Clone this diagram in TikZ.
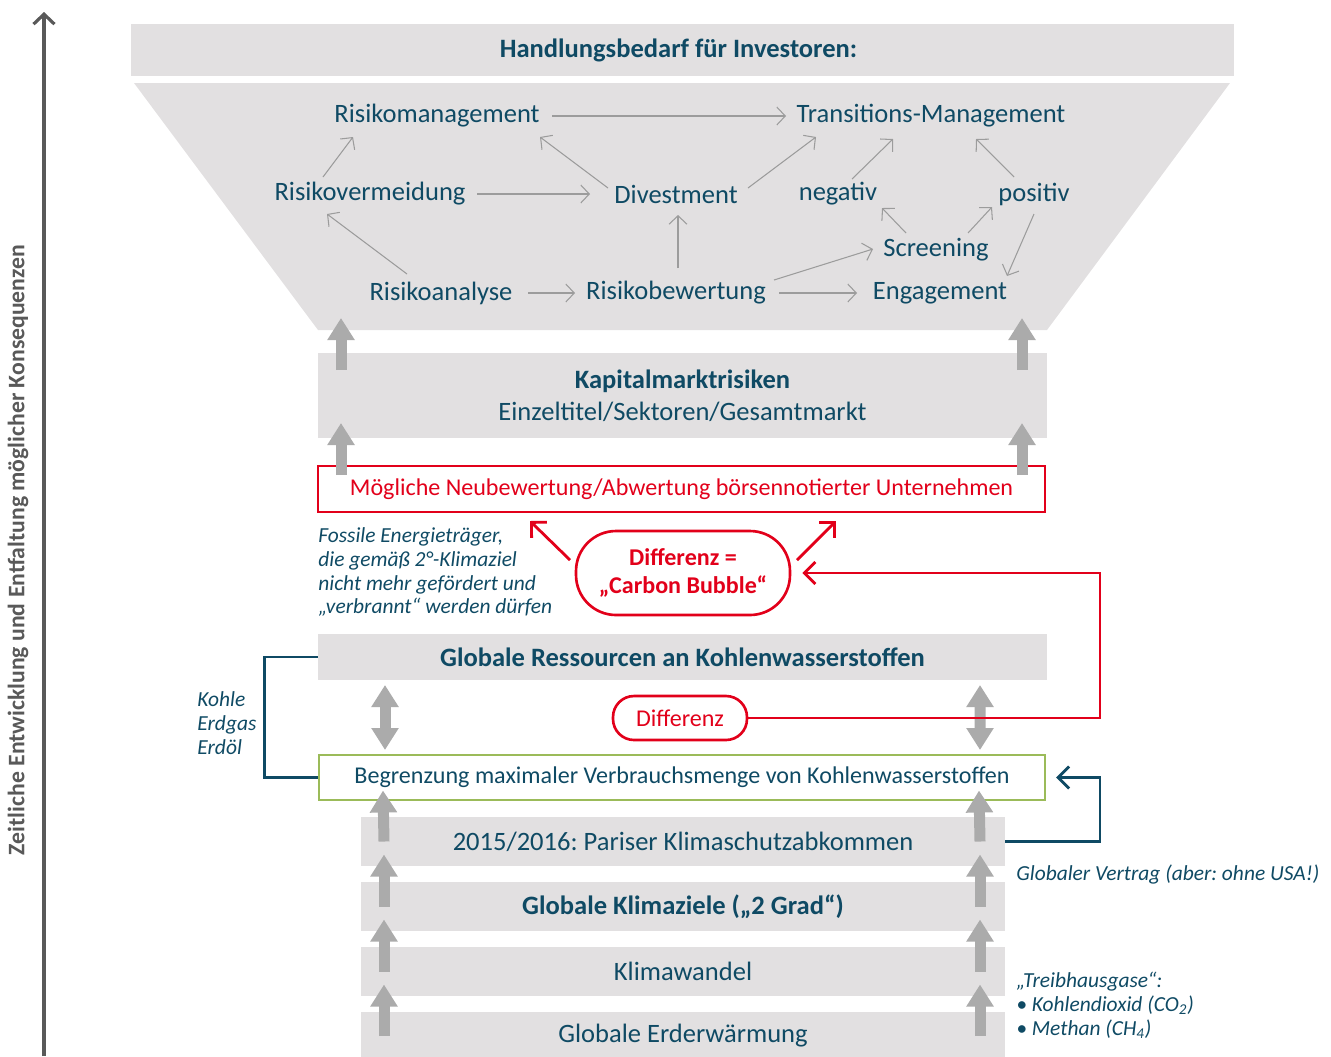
\documentclass[tikz,border=0pt]{standalone}
\usepackage{fontspec}
\setmainfont{Carlito}
\usepackage{xcolor}
\usetikzlibrary{arrows.meta}
\frenchspacing
\definecolor{boxgray}{HTML}{E2E0E1}
\definecolor{arrowgray}{HTML}{ABABAB}
\definecolor{linegray}{HTML}{9C9C9C}
\definecolor{petrol}{HTML}{0F4A64}
\definecolor{alarmred}{HTML}{E2001A}
\definecolor{limegreen}{HTML}{9BBB59}
\definecolor{axisgray}{HTML}{595959}
\newcommand{\fsmain}{\fontsize{15.1}{18}\selectfont}
\newcommand{\fsbox}{\fontsize{13.7}{16}\selectfont}
\newcommand{\fsnote}{\fontsize{12.2}{13.6}\selectfont}
\tikzset{
  term/.style={
    inner sep=0pt,
    text=petrol,
    font=\fsmain
  },
  bar/.style={
    rectangle,
    fill=boxgray,
    inner sep=0pt,
    text=petrol,
    align=center,
    font=\fsmain
  },
  framebox/.style={
    rectangle,
    draw=#1,
    line width=1.4pt,
    inner sep=0pt,
    minimum width=14.52cm,
    minimum height=0.9cm,
    font=\fsbox
  },
  bubble/.style={
    rectangle,
    rounded corners=#1,
    draw=alarmred,
    line width=1.5pt,
    fill=white,
    text=alarmred,
    align=center,
    inner sep=0pt
  },
  note/.style={
    inner sep=0pt,
    text=petrol,
    align=left,
    font=\fsnote\itshape
  },
  flow/.style={
    linegray,
    line width=0.6pt,
    -{Straight Barb[length=0.17cm, width=0.36cm]}
  },
  blockarrow/.style={
    arrowgray,
    line width=0.22cm,
    -{Triangle[length=0.44cm, width=0.52cm]}
  },
  blockboth/.style={
    arrowgray,
    line width=0.22cm,
    {Triangle[length=0.44cm, width=0.52cm]}-{Triangle[length=0.44cm, width=0.52cm]}
  },
  redarrow/.style={
    alarmred,
    line width=1.6pt,
    -{Straight Barb[length=0.22cm, width=0.44cm]}
  },
  bluearrow/.style={
    petrol,
    line width=1.6pt,
    -{Straight Barb[length=0.22cm, width=0.44cm]}
  }
}

\begin{document}
\begin{tikzpicture}[x=0.02cm, y=-0.02cm]
  \useasboundingbox (0,0) rectangle (1331,1056);

  % --- FUNNEL: HANDLUNGSBEDARF ---
  \node (title) [bar, minimum width=22.06cm, minimum height=1.04cm, font=\fsmain\bfseries] at (682.5,50) {Handlungsbedarf für Investoren:\hspace*{0.16cm}};
  \fill[boxgray] (134,83) -- (1230,83) -- (1047,330) -- (318,330) -- cycle;

  \node (rm) [term] at (437,116) {Risikomanagement};
  \node (tm) [term] at (931,116) {Transitions-Management};
  \node (rv) [term] at (370,194) {Risikovermeidung};
  \node (dv) [term] at (676,194) {Divestment};
  \node (ng) [term] at (838,194) {negativ};
  \node (ps) [term] at (1034,194) {positiv};
  \node (sc) [term] at (936,250) {Screening};
  \node (ra) [term] at (441,293) {Risikoanalyse};
  \node (rb) [term] at (676,293) {Risikobewertung};
  \node (en) [term] at (940,293) {Engagement};

  \draw[flow] ([shift={(115,0)}]rm.center) -- ([shift={(-145,0)}]tm.center);
  \draw[flow] ([shift={(-47,-17)}]rv.center) -- ([shift={(-84,21)}]rm.center);
  \draw[flow] ([shift={(107,0)}]rv.center) -- ([shift={(-86,0)}]dv.center);
  \draw[flow] ([shift={(-68,-6)}]dv.center) -- ([shift={(103,21)}]rm.center);
  \draw[flow] ([shift={(72,-6)}]dv.center) -- ([shift={(-115,21)}]tm.center);
  \draw[flow] ([shift={(-34,-19)}]ra.center) -- ([shift={(-43,20)}]rv.center);
  \draw[flow] ([shift={(87,0)}]ra.center) -- ([shift={(-101,0)}]rb.center);
  \draw[flow] ([shift={(2,-25)}]rb.center) -- ([shift={(2,21)}]dv.center);
  \draw[flow] ([shift={(98,-13)}]rb.center) -- ([shift={(-63,-1)}]sc.center);
  \draw[flow] ([shift={(103,0)}]rb.center) -- ([shift={(-83,0)}]en.center);
  \draw[flow] ([shift={(14,-15)}]ng.center) -- ([shift={(-38,23)}]tm.center);
  \draw[flow] ([shift={(-30,-17)}]sc.center) -- ([shift={(44,14)}]ng.center);
  \draw[flow] ([shift={(32,-17)}]sc.center) -- ([shift={(-42,13)}]ps.center);
  \draw[flow] ([shift={(-20,-17)}]ps.center) -- ([shift={(45,23)}]tm.center);
  \draw[flow] ([shift={(0,20)}]ps.center) -- ([shift={(67,-17)}]en.center);

  % --- KAPITALMARKT ---
  \node (kap) [bar, minimum width=14.58cm, minimum height=1.7cm] at (682.5,395.5)
    {\textbf{Kapitalmarktrisiken}\\Einzeltitel/Sektoren/Gesamtmarkt};
  \node (neu) [framebox=alarmred, minimum width=14.54cm, minimum height=0.92cm, text=alarmred] at (681.5,489)
    {Mögliche Neubewertung/Abwertung börsennotierter Unternehmen};

  \draw[blockarrow] ([shift={(-341.5,-25.5)}]kap.center) -- ([shift={(-341.5,-77.5)}]kap.center);
  \draw[blockarrow] ([shift={(339.5,-25.5)}]kap.center) -- ([shift={(339.5,-77.5)}]kap.center);
  \draw[blockarrow] ([shift={(-340.5,-14)}]neu.center) -- ([shift={(-340.5,-66)}]neu.center);
  \draw[blockarrow] ([shift={(340.5,-14)}]neu.center) -- ([shift={(340.5,-66)}]neu.center);

  % --- CARBON BUBBLE ---
  \node (bub) [bubble=0.8cm, minimum width=4.28cm, minimum height=1.68cm, font=\fsbox\bfseries] at (683,573)
    {Differenz =\\„Carbon Bubble“};
  \node (fossil) [note, anchor=west] at (318,572)
    {Fossile Energieträger,\\die gemäß 2°-Klimaziel\\nicht mehr gefördert und\\„verbrannt“ werden dürfen};

  \draw[redarrow] ([shift={(-113,-13)}]bub.center) -- ([shift={(-151.5,32)}]neu.center);
  \draw[redarrow] ([shift={(114,-13)}]bub.center) -- ([shift={(154.5,32)}]neu.center);

  % --- RESSOURCEN VS. BEGRENZUNG ---
  \node (res) [bar, minimum width=14.58cm, minimum height=0.92cm, font=\fsmain\bfseries] at (682.5,657)
    {Globale Ressourcen an Kohlenwasserstoffen};
  \node (grenz) [framebox=limegreen, text=petrol] at (682,777.5)
    {Begrenzung maximaler Verbrauchsmenge von Kohlenwasserstoffen};
  \node (dif) [bubble=0.42cm, minimum width=2.68cm, minimum height=0.88cm, font=\fsbox] at (680,718) {Differenz};
  \node (kohle) [note, anchor=west] at (197,723) {Kohle\\Erdgas\\Erdöl};

  \draw[blockboth] ([shift={(-297.5,28)}]res.center) -- ([shift={(-297,-27.5)}]grenz.center);
  \draw[blockboth] ([shift={(297.5,28)}]res.center) -- ([shift={(298,-27.5)}]grenz.center);

  \coordinate (rr) at (1100,0);
  \draw[redarrow] (dif.east) -| (rr |- bub.east) -- ([xshift=0.22cm]bub.east);
  \draw[petrol, line width=1.6pt] (res.west) -- ++(-53,0) |- (grenz.west);

  % --- KLIMA-STUFEN ---
  \node (paris) [bar, minimum width=12.88cm, minimum height=0.98cm] at (683,841.5)
    {2015/2016: Pariser Klimaschutzabkommen};
  \node (ziele) [bar, minimum width=12.88cm, minimum height=0.98cm, font=\fsmain\bfseries] at (683,906.5)
    {Globale Klimaziele („2 Grad“)};
  \node (wandel) [bar, minimum width=12.88cm, minimum height=0.98cm] at (683,971.5) {Klimawandel};
  \node (erw) [bar, minimum width=12.88cm, minimum height=0.98cm] at (683,1036) {Globale Erderwärmung};

  \foreach \lo/\hi in {paris/grenz, ziele/paris, wandel/ziele, erw/wandel} {
    \draw[blockarrow] ([shift={(-299,0)}]\lo.center) -- ([shift={(-299,13)}]\hi.center);
    \draw[blockarrow] ([shift={(297,0)}]\lo.center) -- ([shift={(297,13)}]\hi.center);
  }

  \draw[bluearrow] (paris.east) -| (rr |- grenz.east) -- ([xshift=0.2cm]grenz.east);
  \node (vertrag) [note, anchor=west] at (1016,874) {Globaler Vertrag (aber: ohne USA!)};
  \node (gase) [note, anchor=west] at (1016,1005)
    {„Treibhausgase“:\\• Kohlendioxid (CO\textsubscript{2})\\• Methan (CH\textsubscript{4})};

  % --- ZEITACHSE ---
  \coordinate (t0) at (44,1056);
  \coordinate (t1) at (44,12);
  \draw[axisgray, line width=1.8pt, -{Straight Barb[length=0.2cm, width=0.42cm]}] (t0) -- (t1);
  \node (zeit) [rotate=90, text=axisgray, font=\fontsize{13.5}{15}\selectfont\bfseries] at (18,550)
    {Zeitliche Entwicklung und Entfaltung möglicher Konsequenzen};

\end{tikzpicture}
\end{document}
